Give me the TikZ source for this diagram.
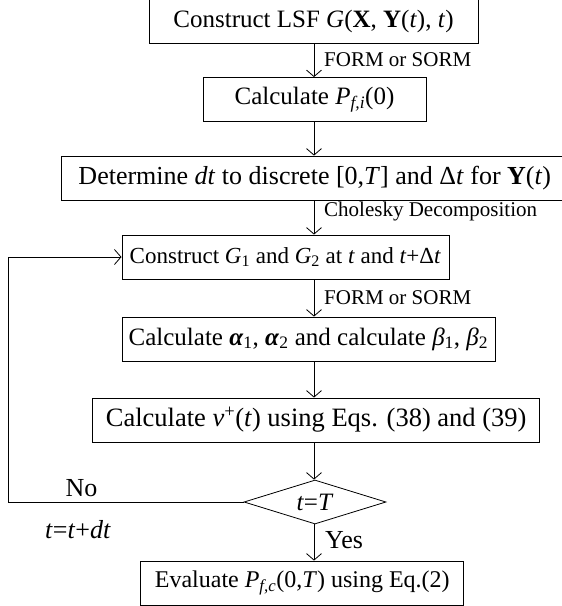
\documentclass[tikz,border=0pt]{standalone}
\usepackage{fontspec}
\setmainfont{Liberation Serif}
\usetikzlibrary{arrows.meta,shapes.geometric}
\newcommand{\itx}[1]{\textit{#1}}
\begin{document}
\begin{tikzpicture}[x=1pt,y=-1pt,
  box/.style={draw,line width=0.8pt,inner sep=0pt,minimum height=44pt,font=\fontsize{25}{29}\selectfont},
  fs/.style={font=\fontsize{#1}{#1}\selectfont},
  dec/.style={draw,diamond,aspect=3.2,line width=0.8pt,inner sep=0pt,font=\fontsize{25}{29}\selectfont},
  lab/.style={inner sep=0pt,font=\fontsize{21}{24}\selectfont},
  txt/.style={inner sep=0pt,font=\fontsize{26}{30}\selectfont},
  conn/.style={line width=0.8pt,-{Straight Barb[length=6.5pt,width=15pt,line width=0.8pt]}}]
\useasboundingbox (0,0) rectangle (562,606);
\coordinate (col) at (314,0);
\node[box,minimum width=329pt] (b1) at (313.5,21.2) {Construct LSF \itx{G}(\textbf{X}, \textbf{Y}(\itx{t}), \itx{t})};
\node[box,minimum width=223pt] (b2) at (314.5,99.5) {Calculate \itx{P}\textsubscript{\itx{f,i}}(0)};
\node[box,fs=26,minimum width=504pt] (b3) at (313.5,178) {\makebox[504pt][l]{\hspace{17pt}Determine \itx{dt} to discrete [0,\itx{T}] and Δ\itx{t} for \textbf{Y}(\itx{t})}};
\node[box,fs=23,minimum width=327pt] (b4) at (285.4,257) {Construct \itx{G}\textsubscript{1} and \itx{G}\textsubscript{2} at \itx{t} and \itx{t}+Δ\itx{t}};
\node[box,minimum width=373pt] (b5) at (308.4,339) {Calculate \textbf{\itx{α}}\textsubscript{1}, \textbf{\itx{α}}\textsubscript{2} and calculate \itx{β}\textsubscript{1}, \itx{β}\textsubscript{2}};
\node[box,fs=26.5,minimum width=447pt] (b6) at (316.2,420) {Calculate \itx{v}\textsuperscript{+}(\itx{t}) using Eqs. (38) and (39)};
\node[dec,minimum width=142pt,minimum height=44pt] (d) at (315,502) {\itx{t}=\itx{T}};
\node[box,fs=24,minimum width=323pt] (b7) at (302.3,583) {Evaluate \itx{P}\textsubscript{\itx{f,c}}(0,\itx{T}) using Eq.(2)};
\draw[conn] (b1.south -| col) -- (b2.north -| col);
\draw[conn] (b2.south -| col) -- (b3.north -| col);
\draw[conn] (b3.south -| col) -- (b4.north -| col);
\draw[conn] (b4.south -| col) -- (b5.north -| col);
\draw[conn] (b5.south -| col) -- (b6.north -| col);
\draw[conn] (b6.south -| col) -- (d.north -| col);
\draw[conn] (d.south -| col) -- (b7.north -| col);
\coordinate (lb) at (8.3,502);
\coordinate (lt) at (8.3,257);
\draw[conn] (d.west) -- (lb) -- (lt) -- (b4.west);
\node[lab,anchor=west] (l1) at (324,60) {FORM or SORM};
\node[lab,anchor=west] (l2) at (324,211) {Cholesky Decomposition};
\node[lab,anchor=west] (l3) at (324,298) {FORM or SORM};
\node[txt,anchor=center] (no) at (81.5,488.5) {No};
\node[txt,anchor=center] (inc) at (78,530) {\itx{t}=\itx{t}+\itx{dt}};
\node[txt,anchor=west] (yes) at (325,540) {Yes};
\end{tikzpicture}
\end{document}
